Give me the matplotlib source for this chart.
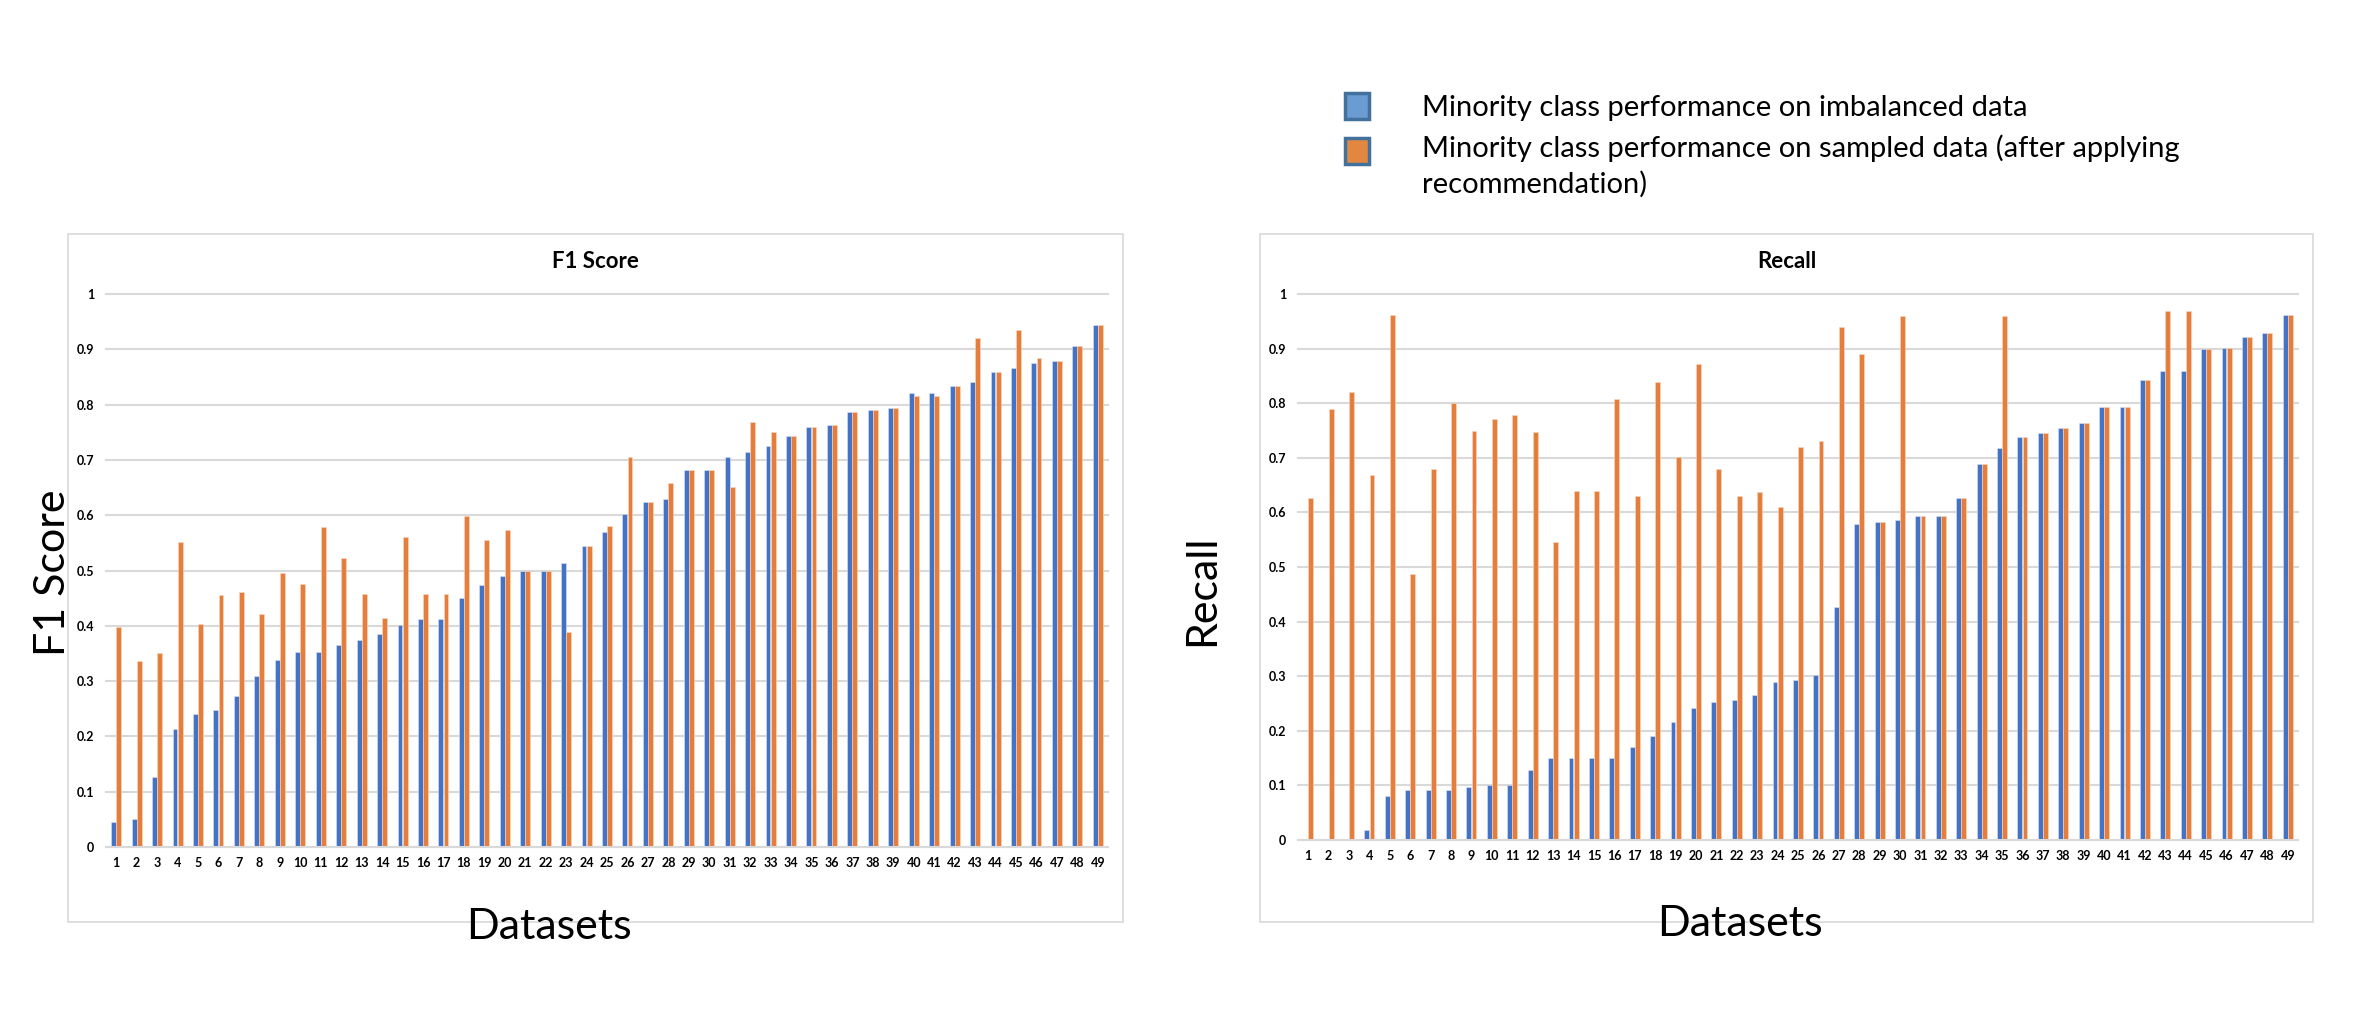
import matplotlib.pyplot as plt
from matplotlib.patches import Rectangle
import numpy as np

# values (49 datasets)
datasets = [str(i) for i in range(1, 50)]

f1_imbalanced = [0.045, 0.050, 0.126, 0.214, 0.240, 0.247, 0.273, 0.310, 0.339, 0.352,
                 0.352, 0.366, 0.374, 0.385, 0.401, 0.412, 0.412, 0.450, 0.474, 0.490,
                 0.500, 0.500, 0.513, 0.545, 0.570, 0.602, 0.623, 0.629, 0.682, 0.682,
                 0.705, 0.715, 0.726, 0.744, 0.760, 0.764, 0.786, 0.791, 0.793, 0.821,
                 0.821, 0.834, 0.840, 0.859, 0.867, 0.876, 0.878, 0.906, 0.944]
f1_sampled = [0.398, 0.336, 0.350, 0.551, 0.403, 0.455, 0.461, 0.422, 0.495, 0.475,
              0.578, 0.523, 0.457, 0.415, 0.560, 0.457, 0.457, 0.599, 0.555, 0.573,
              0.500, 0.500, 0.389, 0.545, 0.581, 0.705, 0.623, 0.659, 0.682, 0.682,
              0.651, 0.768, 0.751, 0.744, 0.760, 0.764, 0.786, 0.791, 0.793, 0.816,
              0.816, 0.834, 0.921, 0.859, 0.934, 0.884, 0.878, 0.906, 0.944]

recall_imbalanced = [0.0, 0.0, 0.0, 0.019, 0.080, 0.091, 0.091, 0.091, 0.097, 0.100,
                     0.100, 0.129, 0.150, 0.150, 0.150, 0.150, 0.170, 0.190, 0.216, 0.241,
                     0.252, 0.257, 0.265, 0.290, 0.293, 0.302, 0.427, 0.579, 0.582, 0.586,
                     0.594, 0.594, 0.626, 0.689, 0.718, 0.738, 0.745, 0.754, 0.763, 0.793,
                     0.793, 0.843, 0.859, 0.859, 0.900, 0.901, 0.921, 0.929, 0.961]
recall_sampled = [0.627, 0.790, 0.820, 0.668, 0.962, 0.488, 0.680, 0.800, 0.749, 0.771,
                  0.778, 0.748, 0.546, 0.640, 0.640, 0.808, 0.630, 0.839, 0.701, 0.871,
                  0.680, 0.630, 0.638, 0.610, 0.719, 0.730, 0.940, 0.891, 0.582, 0.960,
                  0.594, 0.594, 0.626, 0.689, 0.960, 0.738, 0.745, 0.754, 0.763, 0.793,
                  0.793, 0.843, 0.969, 0.969, 0.900, 0.901, 0.921, 0.929, 0.961]

legend_labels = ["Minority class performance on imbalanced data",
                 "Minority class performance on sampled data (after applying\nrecommendation)"]

BLUE = "#4472C4"
ORANGE = "#E57E3C"
GRID = "#D9D9D9"
W, H = 2380, 1036

plt.rcParams["font.family"] = ["Lato", "DejaVu Sans"]

fig = plt.figure(figsize=(W / 100, H / 100), dpi=100)


def px(x0, y0, x1, y1):
    # pixel box (top-left origin) -> figure fraction rect
    return [x0 / W, 1 - y1 / H, (x1 - x0) / W, (y1 - y0) / H]


def draw_panel(rect, box, blue, orange, title, ylabel, ylabel_xy, xlabel_xy):
    # light frame around each chart, like the Excel chart area
    bx = px(*box)
    fig.patches.append(Rectangle((bx[0], bx[1]), bx[2], bx[3], transform=fig.transFigure,
                                 fill=False, edgecolor=GRID, linewidth=1.2))
    ax = fig.add_axes(px(*rect))
    x = np.arange(1, len(datasets) + 1)
    ax.bar(x - 0.125, blue, width=0.24, color=BLUE, edgecolor="#DCE4F2", linewidth=0.4)
    ax.bar(x + 0.125, orange, width=0.24, color=ORANGE, edgecolor="#F6D8C4", linewidth=0.4)
    ax.set_xlim(0.5, len(datasets) + 0.5)
    ax.set_ylim(0, 1.0)
    ax.set_yticks(np.arange(0, 1.01, 0.1))
    ax.set_yticklabels(["0"] + [f"{v:.1f}" for v in np.arange(0.1, 0.95, 0.1)] + ["1"])
    ax.set_xticks(x)
    ax.set_xticklabels(datasets)
    ax.tick_params(length=0, labelsize=9)
    ax.tick_params(axis="x", pad=7)
    ax.tick_params(axis="y", pad=8.5)
    for lab in ax.get_xticklabels() + ax.get_yticklabels():
        lab.set_fontweight("bold")
    ax.yaxis.grid(True, color=GRID, linewidth=1.5, clip_on=False)
    ax.set_axisbelow(True)
    for s in ["top", "left", "right"]:
        ax.spines[s].set_visible(False)
    ax.spines["bottom"].set_color(GRID)
    ax.spines["bottom"].set_linewidth(1.5)
    cx = (box[0] + box[2]) / 2
    fig.text(cx / W, 1 - 262 / H, title, ha="center", va="center",
             fontsize=16, fontweight="bold")
    fig.text(ylabel_xy[0] / W, 1 - ylabel_xy[1] / H, ylabel, rotation=90,
             ha="center", va="center", fontsize=31)
    fig.text(xlabel_xy[0] / W, 1 - xlabel_xy[1] / H, "Datasets",
             ha="center", va="center", fontsize=31)
    return ax


draw_panel((106, 294, 1108, 847), (68, 234, 1123, 922), f1_imbalanced, f1_sampled,
           "F1 Score", "F1 Score", (53, 573), (549, 927))
draw_panel((1298, 294, 2298, 840), (1260, 234, 2313, 922), recall_imbalanced, recall_sampled,
           "Recall", "Recall", (1202, 590), (1740, 924))

# legend drawn by hand at the top right
patch_fill = ["#6A9BD1", "#E2873F"]
patch_y = [106, 151]
for fc, py in zip(patch_fill, patch_y):
    r = px(1345, py - 13, 1369, py + 13)
    fig.patches.append(Rectangle((r[0], r[1]), r[2], r[3], transform=fig.transFigure,
                                 facecolor=fc, edgecolor="#41719C", linewidth=2.5))
legend_lines = [legend_labels[0]] + legend_labels[1].split("\n")
for line, ty in zip(legend_lines, [108, 148, 184]):
    fig.text(1422 / W, 1 - ty / H, line, ha="left", va="center", fontsize=21)

fig.savefig("out.png", dpi=100, facecolor="white")
